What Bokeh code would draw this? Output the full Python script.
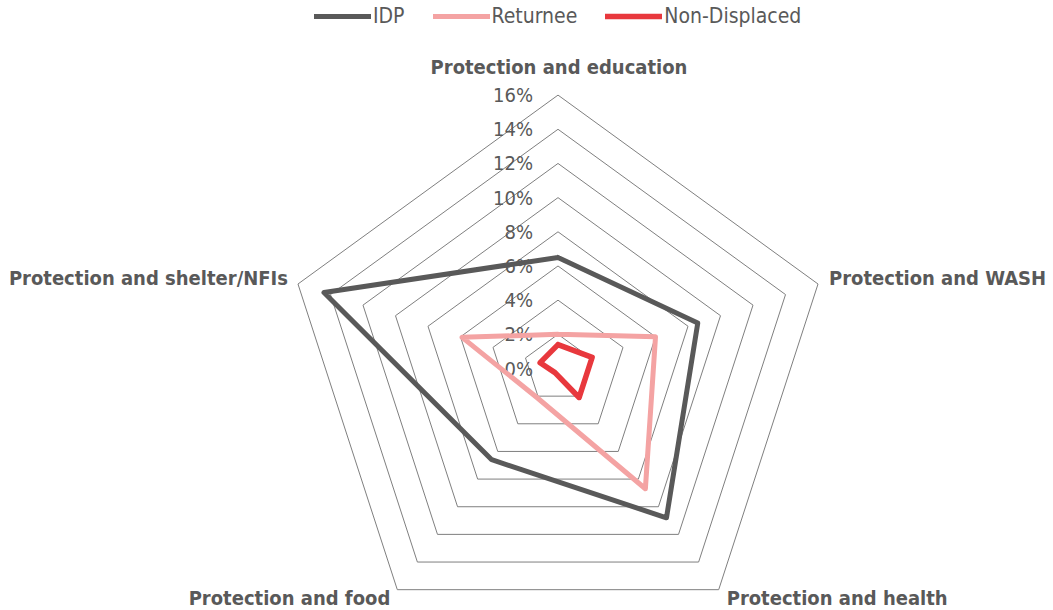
import numpy as np
from bokeh.plotting import figure
from bokeh.models import Range1d, Legend, LegendItem
from bokeh.core.properties import value
from bokeh.embed import file_html
from bokeh.resources import INLINE

# ---- data ----
categories = ["Protection and education", "Protection and WASH", "Protection and health",
              "Protection and food", "Protection and shelter/NFIs"]
idp = [6.5, 8.6, 10.8, 6.6, 14.4]
returnee = [2.0, 6.0, 8.7, 2.1, 5.9]
non_displaced = [1.4, 2.1, 2.1, 0.3, 1.1]
ring_values = [2, 4, 6, 8, 10, 12, 14, 16]
tick_values = [0, 2, 4, 6, 8, 10, 12, 14, 16]
tick_labels = ["0%", "2%", "4%", "6%", "8%", "10%", "12%", "14%", "16%"]
series_names = ["IDP", "Returnee", "Non-Displaced"]

# ---- layout ----
W, H = 1053, 610
CX, CY = 557.5, 368.0      # centre in pixels
S = 273.4 / 16.0           # pixels per percent

NARROW = "Liberation Sans Narrow, DejaVu Sans Condensed"
GREY_TXT = "#595959"

p = figure(width=W, height=H, output_backend="svg", toolbar_location=None,
           x_range=Range1d(-CX / S, (W - CX) / S),
           y_range=Range1d(-(H - CY) / S, CY / S),
           min_border=0, outline_line_color=None)
p.axis.visible = False
p.xgrid.visible = False
p.ygrid.visible = False
p.background_fill_color = "white"
p.border_fill_color = "white"

n = len(categories)
ang = np.deg2rad(90 - 72 * np.arange(n))


def polar(vals):
    v = np.asarray(vals, dtype=float)
    return list(v * np.cos(ang)), list(v * np.sin(ang))


# grid rings
for r in ring_values:
    xs, ys = polar([r] * n)
    p.line(xs + [xs[0]], ys + [ys[0]], line_color="#7f7f7f", line_width=1)

# tick labels
p.text(x=[0] * len(tick_values), y=tick_values, text=tick_labels,
       text_font=value(NARROW), text_font_size="20px", text_color=GREY_TXT,
       text_align="right", text_baseline="middle", x_offset=-25)

# series
colors = ["#595959", "#F4A3A3", "#E8383D"]
widths = [5, 5, 5.5]
renderers = []
for vals, c, w in zip([idp, returnee, non_displaced], colors, widths):
    xs, ys = polar(vals)
    r = p.line(xs + [xs[0]], ys + [ys[0]], line_color=c, line_width=w,
               line_join="round", line_cap="round")
    renderers.append(r)

# category labels
vx, vy = polar([16] * n)
label_style = [("center", 1, -28), ("left", 11, -6), ("left", 8, 8),
               ("right", -7, 8), ("right", -10, -6)]
for i, (al, xo, yo) in enumerate(label_style):
    p.text(x=[vx[i]], y=[vy[i]], text=[categories[i]],
           text_font=value(NARROW), text_font_size="20px", text_font_style="bold",
           text_color=GREY_TXT, text_align=al, text_baseline="middle",
           x_offset=xo, y_offset=yo)

legend = Legend(items=[LegendItem(label=nm, renderers=[r]) for nm, r in zip(series_names, renderers)],
                orientation="horizontal", location=(314, H - 28),
                padding=0, margin=0, spacing=28, label_standoff=2,
                glyph_width=57, glyph_height=22,
                label_text_font=NARROW, label_text_font_size="21px",
                label_text_color=GREY_TXT, label_height=22,
                border_line_alpha=0, background_fill_alpha=0)
p.add_layout(legend, "center")

open("out.html", "w").write(file_html(p, INLINE))
